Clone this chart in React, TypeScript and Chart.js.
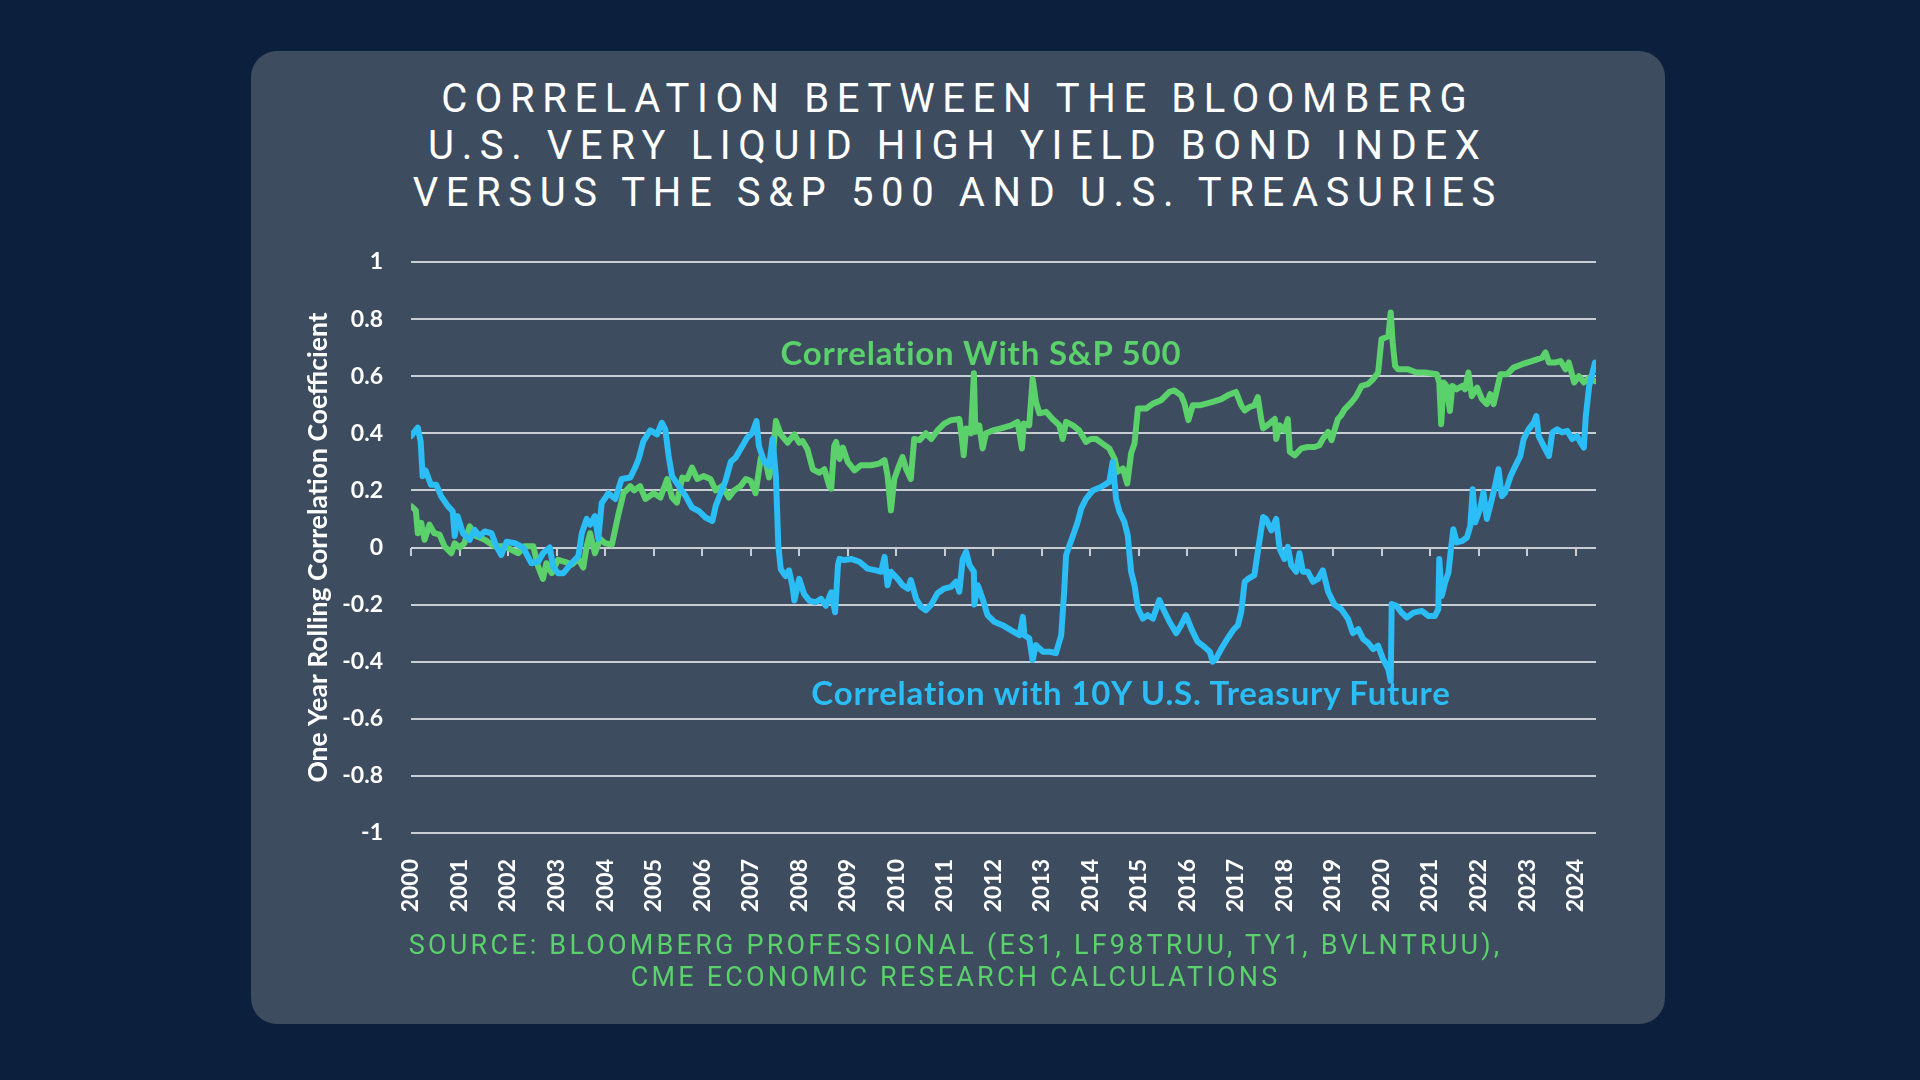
import React, { useEffect, useRef } from "react";
import { Chart, registerables } from "chart.js";

Chart.register(...registerables);

// ---- data ----
const yearTicks = [2000, 2001, 2002, 2003, 2004, 2005, 2006, 2007, 2008, 2009, 2010, 2011, 2012, 2013, 2014, 2015, 2016, 2017, 2018, 2019, 2020, 2021, 2022, 2023, 2024];
const corrTicks = [-1, -0.8, -0.6, -0.4, -0.2, 0, 0.2, 0.4, 0.6, 0.8, 1];

const spxYears = [
  2000.0, 2000.1, 2000.14, 2000.21, 2000.28, 2000.38, 2000.48, 2000.59, 2000.69, 2000.83, 2000.9, 2001.0, 2001.1, 2001.21, 2001.34, 2001.52, 2001.72, 2001.93,
  2002.07, 2002.21, 2002.34, 2002.52, 2002.62, 2002.72, 2002.79, 2002.9, 2003.03, 2003.17, 2003.31, 2003.45, 2003.55, 2003.62, 2003.69, 2003.79, 2003.9,
  2004.0, 2004.14, 2004.28, 2004.38, 2004.52, 2004.6, 2004.72, 2004.83, 2005.0, 2005.14, 2005.28, 2005.38, 2005.48, 2005.59, 2005.69, 2005.79, 2005.9,
  2006.03, 2006.17, 2006.28, 2006.41, 2006.55, 2006.66, 2006.79, 2006.9, 2007.0, 2007.1, 2007.21, 2007.31, 2007.38, 2007.45, 2007.52, 2007.62, 2007.76, 2007.9,
  2008.0, 2008.07, 2008.17, 2008.28, 2008.41, 2008.52, 2008.62, 2008.66, 2008.72, 2008.76, 2008.83, 2008.9, 2009.0, 2009.14, 2009.27, 2009.48, 2009.65, 2009.76,
  2009.82, 2009.89, 2009.96, 2010.06, 2010.13, 2010.2, 2010.3, 2010.37, 2010.48, 2010.61, 2010.72, 2010.85, 2010.99, 2011.13, 2011.3, 2011.35, 2011.39, 2011.44,
  2011.54, 2011.6, 2011.63, 2011.71, 2011.78, 2011.85, 2011.99, 2012.16, 2012.37, 2012.5, 2012.59, 2012.63, 2012.74, 2012.81, 2012.88, 2012.95, 2013.09, 2013.22,
  2013.36, 2013.43, 2013.5, 2013.64, 2013.77, 2013.91, 2014.01, 2014.12, 2014.25, 2014.39, 2014.5, 2014.56, 2014.67, 2014.76, 2014.84, 2014.91, 2014.98, 2015.05,
  2015.15, 2015.29, 2015.46, 2015.63, 2015.73, 2015.87, 2015.94, 2016.02, 2016.11, 2016.25, 2016.39, 2016.52, 2016.7, 2016.83, 2017.0, 2017.11, 2017.18, 2017.28,
  2017.38, 2017.45, 2017.52, 2017.56, 2017.69, 2017.8, 2017.83, 2017.9, 2018.0, 2018.07, 2018.11, 2018.21, 2018.35, 2018.48, 2018.62, 2018.72, 2018.79, 2018.9,
  2018.97, 2019.03, 2019.1, 2019.17, 2019.24, 2019.38, 2019.48, 2019.59, 2019.72, 2019.83, 2019.93, 2020.0, 2020.07, 2020.14, 2020.19, 2020.23, 2020.28, 2020.34,
  2020.55, 2020.72, 2020.9, 2021.14, 2021.19, 2021.23, 2021.28, 2021.34, 2021.41, 2021.46, 2021.55, 2021.66, 2021.72, 2021.79, 2021.86, 2021.97, 2022.07, 2022.17,
  2022.24, 2022.31, 2022.38, 2022.45, 2022.59, 2022.72, 2022.9, 2023.1, 2023.31, 2023.38, 2023.45, 2023.59, 2023.69, 2023.79, 2023.86, 2023.97, 2024.07, 2024.17,
  2024.28, 2024.4,
];
const spxCorr = [
  0.145, 0.13, 0.05, 0.086, 0.027, 0.08, 0.05, 0.045, 0.004, -0.02, 0.015, 0.0, 0.015, 0.074, 0.04, 0.027, 0.004, 0.004,
  -0.008, -0.02, 0.004, 0.004, -0.067, -0.11, -0.055, -0.09, -0.043, -0.05, -0.06, -0.04, -0.07, 0.004, 0.05, -0.02, 0.03,
  0.015, 0.01, 0.12, 0.19, 0.215, 0.2, 0.215, 0.17, 0.19, 0.175, 0.24, 0.175, 0.157, 0.245, 0.24, 0.28, 0.24,
  0.25, 0.24, 0.2, 0.215, 0.175, 0.2, 0.215, 0.24, 0.233, 0.19, 0.315, 0.3, 0.245, 0.31, 0.443, 0.396, 0.367, 0.396,
  0.367, 0.373, 0.344, 0.274, 0.262, 0.274, 0.215, 0.206, 0.355, 0.37, 0.31, 0.35, 0.3, 0.27, 0.288, 0.288, 0.294, 0.306,
  0.253, 0.13, 0.24, 0.288, 0.317, 0.277, 0.24, 0.38, 0.376, 0.4, 0.38, 0.41, 0.434, 0.446, 0.45, 0.387, 0.323, 0.417,
  0.4, 0.61, 0.405, 0.428, 0.347, 0.4, 0.41, 0.417, 0.428, 0.44, 0.347, 0.434, 0.428, 0.59, 0.51, 0.47, 0.475, 0.45,
  0.428, 0.38, 0.44, 0.428, 0.41, 0.37, 0.38, 0.38, 0.364, 0.347, 0.31, 0.265, 0.277, 0.224, 0.33, 0.364, 0.487, 0.487,
  0.487, 0.504, 0.516, 0.545, 0.55, 0.533, 0.504, 0.446, 0.498, 0.498, 0.504, 0.51, 0.52, 0.533, 0.545, 0.498, 0.48, 0.492,
  0.498, 0.527, 0.45, 0.417, 0.434, 0.45, 0.38, 0.428, 0.41, 0.45, 0.335, 0.323, 0.347, 0.352, 0.352, 0.358, 0.38, 0.405,
  0.376, 0.41, 0.45, 0.463, 0.484, 0.508, 0.53, 0.566, 0.572, 0.59, 0.613, 0.73, 0.735, 0.74, 0.823, 0.718, 0.636, 0.624,
  0.624, 0.613, 0.613, 0.607, 0.578, 0.432, 0.578, 0.566, 0.478, 0.566, 0.554, 0.566, 0.554, 0.613, 0.53, 0.56, 0.52, 0.502,
  0.537, 0.502, 0.554, 0.607, 0.607, 0.63, 0.642, 0.653, 0.665, 0.683, 0.648, 0.648, 0.653, 0.624, 0.648, 0.578, 0.6, 0.578,
  0.595, 0.583,
];

const tsyYears = [
  2000.0, 2000.14, 2000.2, 2000.24, 2000.3, 2000.41, 2000.52, 2000.62, 2000.76, 2000.86, 2000.9, 2000.96, 2001.07, 2001.21, 2001.31, 2001.41, 2001.52, 2001.66,
  2001.76, 2001.86, 2001.97, 2002.14, 2002.31, 2002.48, 2002.62, 2002.72, 2002.86, 2002.93, 2003.03, 2003.14, 2003.31, 2003.45, 2003.52, 2003.62, 2003.69, 2003.79,
  2003.86, 2003.93, 2004.07, 2004.21, 2004.34, 2004.52, 2004.62, 2004.69, 2004.79, 2004.93, 2005.07, 2005.17, 2005.24, 2005.31, 2005.38, 2005.52, 2005.66, 2005.79,
  2005.93, 2006.07, 2006.21, 2006.28, 2006.38, 2006.48, 2006.59, 2006.69, 2006.79, 2006.93, 2007.03, 2007.12, 2007.17, 2007.28, 2007.38, 2007.45, 2007.52, 2007.57,
  2007.62, 2007.72, 2007.79, 2007.86, 2007.9, 2008.0, 2008.1, 2008.21, 2008.34, 2008.45, 2008.55, 2008.66, 2008.74, 2008.8, 2008.83, 2008.93, 2009.07, 2009.24,
  2009.41, 2009.58, 2009.69, 2009.76, 2009.82, 2009.89, 2010.03, 2010.13, 2010.24, 2010.3, 2010.41, 2010.51, 2010.61, 2010.72, 2010.85, 2010.99, 2011.13, 2011.23,
  2011.3, 2011.37, 2011.44, 2011.51, 2011.6, 2011.61, 2011.68, 2011.78, 2011.88, 2012.02, 2012.19, 2012.37, 2012.54, 2012.61, 2012.64, 2012.74, 2012.81, 2012.88,
  2013.02, 2013.16, 2013.29, 2013.4, 2013.46, 2013.5, 2013.57, 2013.67, 2013.74, 2013.81, 2013.91, 2014.05, 2014.22, 2014.39, 2014.46, 2014.53, 2014.6, 2014.7,
  2014.77, 2014.84, 2014.91, 2014.98, 2015.08, 2015.18, 2015.29, 2015.42, 2015.53, 2015.63, 2015.77, 2015.87, 2015.97, 2016.08, 2016.21, 2016.35, 2016.46, 2016.52,
  2016.59, 2016.7, 2016.83, 2016.94, 2017.04, 2017.11, 2017.18, 2017.25, 2017.38, 2017.45, 2017.56, 2017.62, 2017.73, 2017.83, 2017.9, 2018.0, 2018.07, 2018.14,
  2018.24, 2018.31, 2018.38, 2018.48, 2018.59, 2018.69, 2018.79, 2018.9, 2019.03, 2019.17, 2019.31, 2019.41, 2019.52, 2019.62, 2019.72, 2019.83, 2019.93, 2020.03,
  2020.14, 2020.19, 2020.21, 2020.31, 2020.41, 2020.52, 2020.66, 2020.83, 2020.97, 2021.1, 2021.17, 2021.19, 2021.24, 2021.31, 2021.38, 2021.43, 2021.48, 2021.55,
  2021.66, 2021.76, 2021.83, 2021.88, 2021.93, 2022.03, 2022.1, 2022.17, 2022.24, 2022.34, 2022.41, 2022.48, 2022.55, 2022.66, 2022.76, 2022.86, 2022.93, 2023.03,
  2023.14, 2023.19, 2023.24, 2023.34, 2023.45, 2023.52, 2023.62, 2023.72, 2023.83, 2023.93, 2024.03, 2024.1, 2024.17, 2024.21, 2024.28, 2024.34, 2024.4,
];
const tsyCorr = [
  0.39, 0.42, 0.37, 0.25, 0.27, 0.22, 0.22, 0.18, 0.145, 0.127, 0.04, 0.11, 0.05, 0.027, 0.062, 0.04, 0.056, 0.05,
  0.004, -0.026, 0.02, 0.015, 0.0, -0.055, -0.05, -0.02, 0.0, -0.067, -0.09, -0.09, -0.055, -0.03, 0.05, 0.1, 0.08, 0.11,
  0.03, 0.156, 0.19, 0.17, 0.24, 0.245, 0.28, 0.31, 0.373, 0.41, 0.396, 0.437, 0.414, 0.32, 0.25, 0.215, 0.18, 0.14,
  0.128, 0.105, 0.093, 0.146, 0.19, 0.233, 0.3, 0.315, 0.344, 0.385, 0.4, 0.443, 0.355, 0.3, 0.285, 0.38, 0.25, 0.006,
  -0.076, -0.1, -0.08, -0.134, -0.186, -0.11, -0.163, -0.186, -0.192, -0.18, -0.204, -0.157, -0.227, -0.06, -0.04, -0.044, -0.04, -0.05,
  -0.074, -0.08, -0.085, -0.033, -0.132, -0.085, -0.11, -0.132, -0.144, -0.114, -0.18, -0.208, -0.22, -0.2, -0.16, -0.144, -0.138, -0.12,
  -0.155, -0.04, -0.015, -0.062, -0.085, -0.2, -0.132, -0.18, -0.237, -0.26, -0.272, -0.29, -0.307, -0.243, -0.307, -0.318, -0.394, -0.342,
  -0.365, -0.365, -0.37, -0.307, -0.155, -0.027, 0.008, 0.055, 0.09, 0.136, 0.17, 0.2, 0.212, 0.23, 0.3, 0.17, 0.125, 0.09,
  0.043, -0.085, -0.132, -0.213, -0.249, -0.237, -0.249, -0.184, -0.225, -0.26, -0.3, -0.272, -0.237, -0.284, -0.33, -0.348, -0.365, -0.4,
  -0.389, -0.354, -0.318, -0.29, -0.272, -0.225, -0.12, -0.11, -0.097, -0.015, 0.107, 0.1, 0.06, 0.1, -0.004, -0.04, 0.002, -0.062,
  -0.085, -0.02, -0.085, -0.085, -0.12, -0.11, -0.08, -0.155, -0.2, -0.216, -0.25, -0.3, -0.286, -0.32, -0.333, -0.356, -0.344, -0.39,
  -0.426, -0.467, -0.198, -0.204, -0.228, -0.245, -0.228, -0.222, -0.24, -0.24, -0.216, -0.04, -0.17, -0.123, -0.087, -0.006, 0.064, 0.018,
  0.023, 0.035, 0.076, 0.204, 0.088, 0.134, 0.193, 0.1, 0.146, 0.216, 0.274, 0.18, 0.193, 0.25, 0.286, 0.32, 0.38, 0.414,
  0.438, 0.46, 0.39, 0.356, 0.32, 0.403, 0.414, 0.403, 0.408, 0.38, 0.39, 0.368, 0.35, 0.46, 0.566, 0.607, 0.648,
];

const titleLines = [
  "CORRELATION BETWEEN THE BLOOMBERG",
  "U.S. VERY LIQUID HIGH YIELD BOND INDEX",
  "VERSUS THE S&P 500 AND U.S. TREASURIES",
];
const sourceLines = [
  "SOURCE: BLOOMBERG PROFESSIONAL (ES1, LF98TRUU, TY1, BVLNTRUU),",
  "CME ECONOMIC RESEARCH CALCULATIONS",
];
const spxLabel = "Correlation With S&P 500";
const tsyLabel = "Correlation with 10Y U.S. Treasury Future";
const yAxisTitle = "One Year Rolling Correlation Coefficient";

const GREEN = "#5ad16b";
const BLUE = "#2bbdf6";
const GRID = "#c9ced5";
const BG = "#0c1f3d";
const CARD = "#3d4c5f";

export default function App() {
  const canvasRef = useRef<HTMLCanvasElement | null>(null);

  useEffect(() => {
    const canvas = canvasRef.current;
    if (!canvas) return;
    const tickFont = { family: "Lato", size: 23, weight: "bold" as const };
    const chart = new Chart(canvas, {
      type: "line",
      data: {
        datasets: [
          {
            label: tsyLabel,
            data: tsyYears.map((x, i) => ({ x, y: tsyCorr[i] })),
            borderColor: BLUE,
            borderWidth: 6,
            pointRadius: 0,
            tension: 0,
            borderJoinStyle: "round",
            borderCapStyle: "round",
          },
          {
            label: spxLabel,
            data: spxYears.map((x, i) => ({ x, y: spxCorr[i] })),
            borderColor: GREEN,
            borderWidth: 6,
            pointRadius: 0,
            tension: 0,
            borderJoinStyle: "round",
            borderCapStyle: "round",
          },
        ],
      },
      options: {
        responsive: false,
        animation: false,
        devicePixelRatio: 1,
        layout: { padding: { left: 303, top: 262, right: 324, bottom: 147 } },
        plugins: { legend: { display: false }, tooltip: { enabled: false }, title: { display: false } },
        scales: {
          x: {
            type: "linear",
            position: "bottom",
            min: 2000,
            max: 2024.42,
            afterBuildTicks: (s: any) => {
              s.ticks = yearTicks.map((v) => ({ value: v }));
            },
            afterFit: (s: any) => {
              s.height = 100;
            },
            grid: { display: false, drawTicks: false },
            border: { display: false },
            ticks: {
              color: "#ffffff",
              font: tickFont,
              padding: 26,
              maxRotation: 90,
              minRotation: 90,
              autoSkip: false,
              callback: (v: any) => String(Math.round(Number(v))),
            },
          },
          xZero: {
            type: "linear",
            position: { y: 0 } as any,
            min: 2000,
            max: 2024.42,
            afterBuildTicks: (s: any) => {
              s.ticks = yearTicks.map((v) => ({ value: v }));
            },
            afterFit: (s: any) => {
              s.height = 0;
            },
            grid: { display: true, drawOnChartArea: false, drawTicks: true, tickLength: 8, color: GRID, lineWidth: 2 },
            border: { display: false },
            ticks: { display: false },
          },
          y: {
            type: "linear",
            position: "left",
            min: -1,
            max: 1,
            afterBuildTicks: (s: any) => {
              s.ticks = corrTicks.map((v) => ({ value: v }));
            },
            afterFit: (s: any) => {
              s.width = 108;
            },
            grid: { color: GRID, lineWidth: 2, drawTicks: false },
            border: { display: false },
            ticks: {
              color: "#ffffff",
              font: tickFont,
              padding: 28,
              callback: (v: any) => String(Math.round(Number(v) * 10) / 10),
            },
            title: {
              display: true,
              text: yAxisTitle,
              color: "#ffffff",
              font: { family: "Lato", size: 26.5, weight: "bold" },
              padding: { top: 0, bottom: 0 },
            },
          },
        },
      },
    });
    return () => chart.destroy();
  }, []);

  return (
    <div style={{ position: "relative", width: 1920, height: 1080, background: BG, overflow: "hidden" }}>
      <style>{"body{margin:0}"}</style>
      <div
        style={{
          position: "absolute",
          left: 251,
          top: 51,
          width: 1414,
          height: 973,
          background: CARD,
          borderRadius: 26,
        }}
      />
      <div
        style={{
          position: "absolute",
          left: 954,
          top: 75,
          transform: "translateX(-50%)",
          whiteSpace: "nowrap",
          textAlign: "center",
          color: "#ffffff",
          fontFamily: "Roboto",
          fontWeight: 400,
          fontSize: 40,
          lineHeight: "47px",
          letterSpacing: 7.6,
          paddingLeft: 7.6,
        }}
      >
        {titleLines.map((t) => (
          <div key={t}>{t}</div>
        ))}
      </div>
      <canvas
        ref={canvasRef}
        width={1920}
        height={1080}
        style={{ position: "absolute", left: 0, top: 0, width: 1920, height: 1080 }}
      />
      <div
        style={{
          position: "absolute",
          left: 981,
          top: 352,
          transform: "translate(-50%, -50%)",
          whiteSpace: "nowrap",
          color: GREEN,
          fontFamily: "Lato",
          fontWeight: 700,
          fontSize: 33,
          letterSpacing: 0.8,
        }}
      >
        {spxLabel}
      </div>
      <div
        style={{
          position: "absolute",
          left: 1131,
          top: 692,
          transform: "translate(-50%, -50%)",
          whiteSpace: "nowrap",
          color: BLUE,
          fontFamily: "Lato",
          fontWeight: 700,
          fontSize: 33,
          letterSpacing: 0.8,
        }}
      >
        {tsyLabel}
      </div>
      <div
        style={{
          position: "absolute",
          left: 954,
          top: 929,
          transform: "translateX(-50%)",
          whiteSpace: "nowrap",
          textAlign: "center",
          color: GREEN,
          fontFamily: "Roboto",
          fontWeight: 400,
          fontSize: 27,
          lineHeight: "32px",
          letterSpacing: 3.2,
          paddingLeft: 3.2,
        }}
      >
        {sourceLines.map((t) => (
          <div key={t}>{t}</div>
        ))}
      </div>
    </div>
  );
}
